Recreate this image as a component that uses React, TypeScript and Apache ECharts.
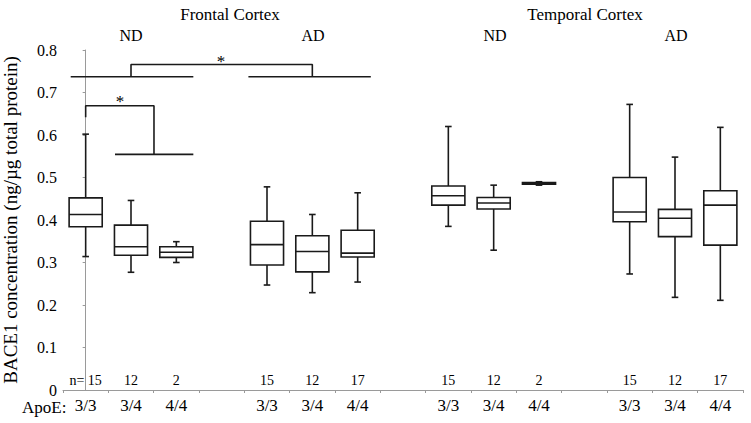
import React, { useEffect, useRef } from "react";
import * as echarts from "echarts";

// ---- data ----
const categories = ["3/3", "3/4", "4/4", "", "3/3", "3/4", "4/4", "", "3/3", "3/4", "4/4", "", "3/3", "3/4", "4/4"];
const boxPositions = [0, 1, 2, 4, 5, 6, 8, 9, 10, 12, 13, 14];
// [min, q1, median, q3, max]
const frontalND = [
  [0.314, 0.384, 0.413, 0.452, 0.602],
  [0.277, 0.317, 0.337, 0.388, 0.446],
  [0.300, 0.312, 0.324, 0.337, 0.349],
];
const frontalAD = [
  [0.247, 0.294, 0.342, 0.397, 0.478],
  [0.229, 0.278, 0.326, 0.363, 0.413],
  [0.254, 0.313, 0.322, 0.376, 0.464],
];
const temporalND = [
  [0.385, 0.435, 0.457, 0.480, 0.620],
  [0.329, 0.426, 0.440, 0.453, 0.482],
  [0.482, 0.484, 0.486, 0.488, 0.490],
];
const temporalAD = [
  [0.273, 0.396, 0.419, 0.500, 0.672],
  [0.218, 0.361, 0.404, 0.425, 0.548],
  [0.211, 0.341, 0.435, 0.469, 0.618],
];
const nLabels = ["n= 15", "12", "2", "15", "12", "17", "15", "12", "2", "15", "12", "17"];
const nLabelLevel = 0.0235;
const yTicks = { min: 0, max: 0.8, interval: 0.1 };

// significance brackets (in band units: category i centred at i)
const bracketTopLeft = [[-0.33, 0.737], [2.375, 0.737]];
const bracketTopRight = [[3.59, 0.737], [6.29, 0.737]];
const bracketTopJoin = [[1.0, 0.737], [1.0, 0.766], [5.0, 0.766], [5.0, 0.737]];
const bracketLowJoin = [[0.0, 0.642], [0.0, 0.669], [1.507, 0.669], [1.507, 0.5545]];
const bracketLowBar = [[0.647, 0.5545], [2.375, 0.5545]];
const stars = [[2.985, 0.772], [0.757, 0.679]];

const FONT = "Liberation Serif";
const INK = "#1a1a1a";

export default function App() {
  const ref = useRef<HTMLDivElement>(null);
  useEffect(() => {
    if (!ref.current) return;
    const chart = echarts.init(ref.current, null, { renderer: "svg" });
    const allStats = [...frontalND, ...frontalAD, ...temporalND, ...temporalAD];
    const boxData = allStats.map((s, i) => [boxPositions[i], ...s]);

    const bracketSeries = [bracketTopLeft, bracketTopRight, bracketTopJoin, bracketLowJoin, bracketLowBar].map((d) => ({
      type: "line",
      xAxisIndex: 1,
      yAxisIndex: 0,
      data: d,
      symbol: "none",
      silent: true,
      lineStyle: { color: INK, width: 1.6 },
    }));

    const txt = (text: string, x: number, y: number, size: number, align = "center") => ({
      type: "text",
      x,
      y,
      style: { text, fontFamily: FONT, fontSize: size, fill: "#000", textAlign: align, textVerticalAlign: "middle" },
    });

    const plainLabel = (formatter: any, size: number) => ({
      show: true,
      position: "inside",
      formatter,
      fontFamily: FONT,
      fontSize: size,
      color: "#000",
      opacity: 1,
      textBorderWidth: 0,
      textBorderColor: "transparent",
    });

    const option: any = {
      animation: false,
      backgroundColor: "#fff",
      grid: { left: 63, right: 8, top: 50, bottom: 33, containLabel: false, outerBoundsMode: "none" },
      xAxis: [
        {
          type: "category",
          data: categories,
          boundaryGap: true,
          axisLine: { lineStyle: { color: "#9a9a9a", width: 1 } },
          axisTick: { show: true, length: 3, lineStyle: { color: "#9a9a9a" } },
          axisLabel: { fontFamily: FONT, fontSize: 17, color: "#000", margin: 7, interval: 0 },
          splitLine: { show: false },
        },
        { type: "value", min: -0.5, max: 14.5, show: false },
      ],
      yAxis: {
        type: "value",
        min: yTicks.min,
        max: yTicks.max,
        interval: yTicks.interval,
        name: "BACE1 concentration (ng/µg total protein)",
        nameLocation: "middle",
        nameGap: 43,
        nameTextStyle: { fontFamily: FONT, fontSize: 19, color: "#000" },
        axisLine: { show: true, lineStyle: { color: "#9a9a9a", width: 1 } },
        axisTick: { show: true, length: 3, lineStyle: { color: "#9a9a9a" } },
        axisLabel: {
          fontFamily: FONT,
          fontSize: 16,
          color: "#000",
          margin: 6,
          formatter: (v: number) => (v === 0 ? "0" : v.toFixed(1)),
        },
        splitLine: { show: false },
      },
      graphic: [
        txt("Frontal Cortex", 230, 14, 17),
        txt("Temporal Cortex", 585, 14, 17),
        txt("ND", 131, 35, 16),
        txt("AD", 313, 35, 16),
        txt("ND", 495, 35, 16),
        txt("AD", 676, 35, 16),
        txt("ApoE:", 22, 407, 17, "left"),
      ],
      series: [
        {
          type: "custom",
          xAxisIndex: 0,
          yAxisIndex: 0,
          data: boxData,
          encode: { x: 0, y: [1, 2, 3, 4, 5] },
          renderItem: (params: any, api: any) => {
            const x = api.value(0);
            const pMin = api.coord([x, api.value(1)]);
            const pQ1 = api.coord([x, api.value(2)]);
            const pMed = api.coord([x, api.value(3)]);
            const pQ3 = api.coord([x, api.value(4)]);
            const pMax = api.coord([x, api.value(5)]);
            const band = api.size([1, 0])[0];
            const bw = band * 0.73;
            const cx = pMed[0];
            const cap = 3.3;
            const ls = { stroke: INK, lineWidth: 1.6 };
            return {
              type: "group",
              children: [
                { type: "line", shape: { x1: cx, y1: pQ3[1], x2: cx, y2: pMax[1] }, style: ls },
                { type: "line", shape: { x1: cx - cap, y1: pMax[1], x2: cx + cap, y2: pMax[1] }, style: ls },
                { type: "line", shape: { x1: cx, y1: pQ1[1], x2: cx, y2: pMin[1] }, style: ls },
                { type: "line", shape: { x1: cx - cap, y1: pMin[1], x2: cx + cap, y2: pMin[1] }, style: ls },
                {
                  type: "rect",
                  shape: { x: cx - bw / 2, y: pQ3[1], width: bw, height: pQ1[1] - pQ3[1] },
                  style: { fill: "#fff", stroke: INK, lineWidth: 1.6 },
                },
                { type: "line", shape: { x1: cx - bw / 2, y1: pMed[1], x2: cx + bw / 2, y2: pMed[1] }, style: ls },
              ],
            };
          },
        },
        {
          type: "scatter",
          xAxisIndex: 0,
          yAxisIndex: 0,
          symbolSize: 0,
          silent: true,
          itemStyle: { color: "#000", opacity: 1 },
          data: boxPositions.map((p, i) => ({ value: [p, nLabelLevel], name: nLabels[i] })),
          label: plainLabel("{b}", 14),
        },
        ...bracketSeries,
        {
          type: "scatter",
          xAxisIndex: 1,
          yAxisIndex: 0,
          symbolSize: 0,
          silent: true,
          itemStyle: { color: "#000", opacity: 1 },
          data: stars,
          label: plainLabel("*", 17),
        },
      ],
    };
    chart.setOption(option);
    return () => chart.dispose();
  }, []);
  return <div ref={ref} style={{ position: "fixed", left: 0, top: 0, width: 751, height: 423 }} />;
}
